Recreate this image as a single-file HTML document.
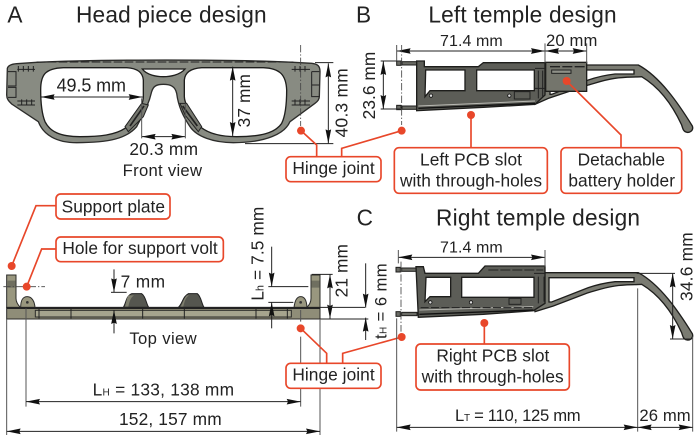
<!DOCTYPE html>
<html><head><meta charset="utf-8"><style>
html,body{margin:0;padding:0;background:#fff;width:700px;height:441px;overflow:hidden}
svg{display:block}
text{font-family:"Liberation Sans",sans-serif;fill:#222}
.t{font-size:68px}
.l{stroke:#222;stroke-width:3;fill:none}
.g{stroke:#555;stroke-width:3;fill:none}
.a{stroke:#222;stroke-width:3;fill:none;marker-end:url(#a)}
.aa{stroke:#222;stroke-width:3;fill:none;marker-end:url(#a);marker-start:url(#a)}
.dd{stroke:#444;stroke-width:2.5;stroke-dasharray:22 6 4 6;fill:none}
.o{stroke:#e8472a;stroke-width:5;fill:none}
.dot{fill:#e8472a}
.b{fill:#fff;stroke:#e8472a;stroke-width:5}
.f{fill:#888b82;stroke:#2c2c2a;stroke-width:4}
.k{fill:#5c5d57;stroke:#1e1e1c;stroke-width:4}
.w{fill:#fff;stroke:#1e1e1c;stroke-width:4}
.e{stroke:#222;stroke-width:3;fill:none}
.p{fill:#6a6b65;stroke:#1e1e1c;stroke-width:3}
.ar{fill:#7a7b72;stroke:#1e1e1c;stroke-width:4}
</style></head><body>
<svg xmlns="http://www.w3.org/2000/svg" width="700" height="441" viewBox="0 0 2100 1323">
<defs>
<marker id="a" viewBox="-42 -9 42 18" refX="0" refY="0" markerWidth="42" markerHeight="18" markerUnits="userSpaceOnUse" orient="auto-start-reverse"><path d="M0,0L-42,-8.5L-38,0L-42,8.5z" fill="#111"/></marker>
</defs>

<!-- Panel A -->
<text class="t" x="22" y="67" textLength="46">A</text>
<text class="t" x="228" y="67" textLength="572">Head piece design</text>
<path class="f" d="M22,205C25,195 35,192 50,191L110,187C300,178 700,178 880,187L935,190C955,192 960,200 960,215L958,290C958,297 952,305 945,310L870,365C855,400 800,428 700,428C640,428 590,410 570,380C550,350 535,320 530,280C525,258 510,253 490,253C470,253 460,258 455,275C445,320 425,350 410,380C380,415 330,428 230,428C170,428 130,405 115,365L35,312C28,305 20,298 20,285Z"/>
<path class="w" d="M122,270C122,225 135,205 190,203L380,203C410,205 428,215 430,240L430,290C430,320 395,370 375,385C345,405 300,410 240,410C180,410 150,395 135,365C125,340 122,300 122,270Z"/>
<path class="w" d="M553,240C555,215 575,205 605,203L790,203C840,205 858,225 860,270C860,320 855,350 845,370C825,400 780,410 710,410C650,410 615,395 595,375C575,350 553,310 553,290Z"/>
<path class="w" d="M427,207L555,207C540,225 510,230 490,230C470,230 440,225 427,207Z"/>
<path fill="#777970" stroke="#222" stroke-width="3" d="M375,380L425,310L445,315L430,350L385,395Z"/>
<path fill="#777970" stroke="#222" stroke-width="3" d="M540,310L560,310L605,380L595,395L555,345Z"/>
<path d="M390,378L432,318M548,318L592,378" stroke="#222" stroke-width="5" fill="none"/>
<path d="M110,186H880" stroke="#222" stroke-width="3" stroke-dasharray="26 7" fill="none"/>
<path class="e" d="M52,208H105M55,198V215M70,198V215M85,198V215M100,198V215M52,303H105M52,315H105M65,298V315M80,298V315M95,298V315"/>
<path class="e" d="M875,208H930M885,198V215M900,198V215M915,198V215M875,303H930M875,315H930M885,298V315M900,298V315M915,298V315"/>
<path class="e" d="M24,215H48V258H24M24,262H48V292H24M935,215H958M935,215V290H958M935,255H958"/>
<path class="aa" d="M122,291H428"/>
<path class="aa" d="M698,200V408"/>
<path class="aa" d="M985,190V430"/>
<path class="aa" d="M425,410H556"/>
<path class="l" d="M945,188H1000M735,431H1000"/>
<path class="g" d="M425,295V415M556,310V415"/>
<path class="dd" d="M902,135V378"/>
<text font-size="54" x="170" y="274" textLength="208">49.5 mm</text>
<text font-size="52" x="388" y="465" textLength="206">20.3 mm</text>
<text font-size="50" x="368" y="528" textLength="238">Front view</text>
<text font-size="52" transform="translate(750,382) rotate(-90)" textLength="160">37 mm</text>
<text font-size="52" transform="translate(1043,412) rotate(-90)" textLength="207">40.3 mm</text>

<!-- Hinge callouts -->
<circle class="dot" cx="903" cy="392" r="12"/>
<path class="o" d="M903,392L950,435V470"/>
<path class="o" d="M1025,470V445L1205,392"/>
<circle class="dot" cx="1205" cy="392" r="12"/>
<rect class="b" x="858" y="470" width="285" height="75" rx="14"/>
<text font-size="52" x="877" y="522" textLength="247">Hinge joint</text>

<!-- Panel B -->
<g transform="translate(1050,0)">
<text class="t" x="18" y="67" textLength="44">B</text>
<text class="t" x="235" y="67" textLength="565">Left temple design</text>
<rect class="p" x="140" y="183" width="13" height="13"/><rect class="p" x="156" y="185" width="46" height="10"/>
<rect class="p" x="140" y="316" width="13" height="13"/><rect class="p" x="156" y="318" width="46" height="10"/>
<path class="ar" d="M580,195H865C930,230 985,310 1027,378C1032,392 1018,400 1008,396C1000,394 998,385 995,375C965,310 925,260 875,230C850,232 825,230 795,235C760,240 735,250 715,255L595,295L555,313L540,250Z"/>
<path class="w" d="M600,210H852V222H795C760,226 735,233 715,240L605,283H600Z"/>
<path class="k" d="M200,183H223V200H385L400,188H585V285L555,313L400,322L200,332Z"/>
<path class="w" d="M227,210H345V272H240L225,290Z"/>
<path class="w" d="M380,210H553V272H380Z"/>
<path d="M205,318L555,303" stroke="#b9b9b3" stroke-width="3" fill="none"/>
<path d="M205,325L555,310" stroke="#111" stroke-width="4" fill="none"/>
<rect x="587" y="187" width="123" height="87" fill="#74756c" stroke="#1e1e1c" stroke-width="4"/>
<path d="M600,200H708" stroke="#222" stroke-width="4" stroke-dasharray="30 7" fill="none"/>
<rect x="605" y="210" width="58" height="10" fill="#8f9088" stroke="#222" stroke-width="3"/>
<path class="e" d="M555,205H585M565,212V295M578,212V290M555,265H585"/>
<rect x="493" y="275" width="47" height="22" fill="#5c5d57" stroke="#222" stroke-width="3"/>
<circle cx="243" cy="287" r="5" fill="#ddd" stroke="#111" stroke-width="2.5"/>
<circle cx="478" cy="287" r="5" fill="#ddd" stroke="#111" stroke-width="2.5"/>
<path class="aa" d="M140,153H585"/>
<path class="aa" d="M585,153H710"/>
<path class="aa" d="M100,183V327"/>
<path class="l" d="M92,183H150M92,327H150"/>
<path class="g" d="M140,135V182M585,130V187M710,130V190"/>
<path class="dd" d="M155,135V375"/>
<text font-size="48" x="270" y="138" textLength="188">71.4 mm</text>
<text font-size="50" x="588" y="138" textLength="154">20 mm</text>
<text font-size="52" transform="translate(75,358) rotate(-90)" textLength="203">23.6 mm</text>
<circle class="dot" cx="363" cy="345" r="12"/>
<path class="o" d="M363,345V443"/>
<rect class="b" x="133" y="443" width="459" height="137" rx="14"/>
<text font-size="52" x="210" y="497" textLength="306">Left PCB slot</text>
<text font-size="52" x="150" y="560" textLength="426">with through-holes</text>
<circle class="dot" cx="650" cy="243" r="12"/>
<path class="o" d="M650,243L813,405V443"/>
<rect class="b" x="633" y="443" width="362" height="137" rx="14"/>
<text font-size="52" x="683" y="497" textLength="262">Detachable</text>
<text font-size="52" x="655" y="560" textLength="320">battery holder</text>
</g>

<!-- Top view -->
<g transform="translate(0,570)">
<path fill="#99977f" stroke="#2c2c2a" stroke-width="3" d="M20,255H48V325C48,335 54,345 62,353H20Z"/>
<path fill="#99977f" stroke="#2c2c2a" stroke-width="3" d="M960,255H933V325C933,335 928,345 920,353H960Z"/>
<path fill="#6f6f60" d="M22,272H46V293H22ZM935,272H958V293H935Z"/>
<path fill="#99977f" stroke="#2c2c2a" stroke-width="3" d="M62,353C62,330 68,320 82,320C96,320 104,335 105,353Z"/>
<path fill="#99977f" stroke="#2c2c2a" stroke-width="3" d="M882,353C884,335 890,320 902,320C914,320 920,330 921,353Z"/>
<circle cx="82" cy="337" r="4" fill="#333"/><circle cx="902" cy="337" r="4" fill="#333"/>
<path fill="#55564f" stroke="#222" stroke-width="3" d="M370,352C378,340 378,318 395,311H425C438,320 438,340 446,352Z"/>
<path fill="#7f7f6e" d="M385,350C388,335 392,322 402,316H385C380,325 378,340 375,350Z"/>
<path fill="#55564f" stroke="#222" stroke-width="3" d="M535,352C548,340 548,320 565,311H592C604,320 604,340 612,352Z"/>
<path fill="#7f7f6e" d="M550,350C553,335 557,322 567,316H560C552,325 548,340 542,350Z"/>
<rect x="20" y="352" width="940" height="35" fill="#8f8d78" stroke="#2c2c2a" stroke-width="3"/>
<rect x="106" y="361" width="768" height="20" fill="#a6a48e" stroke="#2c2c2a" stroke-width="3"/>
<path d="M20,354H960" stroke="#222" stroke-width="6" fill="none"/>
<path d="M117,357V385M213,357V385M428,357V385M553,357V385M768,357V385M862,357V385" stroke="#222" stroke-width="3" fill="none"/>
<path class="dd" d="M10,290H135"/>
<path class="a" d="M342,238V307"/>
<path class="l" d="M333,307H380"/>
<path class="a" d="M342,430V360"/>
<text font-size="52" x="362" y="292" textLength="133">7 mm</text>
<text font-size="50" x="388" y="462" textLength="202">Top view</text>
<path class="a" d="M815,170V290"/>
<path class="l" d="M805,290H925M805,337H880"/>
<path class="a" d="M815,415V337"/>
<text font-size="52" transform="translate(790,332) rotate(-90)" textLength="282">L<tspan font-size="32">h</tspan> = 7.5 mm</text>
<path class="aa" d="M990,253V386"/>
<path class="l" d="M935,253H998M960,352H1095M960,387H1105"/>
<text font-size="52" transform="translate(1042,322) rotate(-90)" textLength="160">21 mm</text>
<path class="g" d="M78,355V650M902,360V395M902,440V520M902,595V650M20,387V735M960,387V735"/>
<path class="aa" d="M78,635H902"/>
<path class="aa" d="M20,724H960"/>
<text font-size="52" x="278" y="617" textLength="424">L<tspan font-size="30">H</tspan> = 133, 138 mm</text>
<text font-size="52" x="357" y="705" textLength="308">152, 157 mm</text>
<circle class="dot" cx="35" cy="228" r="12"/>
<path class="o" d="M168,47H108L35,228"/>
<rect class="b" x="168" y="12" width="342" height="75" rx="14"/>
<text font-size="52" x="185" y="67" textLength="310">Support plate</text>
<circle class="dot" cx="80" cy="290" r="12"/>
<path class="o" d="M168,177H125L80,290"/>
<rect class="b" x="168" y="141" width="502" height="74" rx="14"/>
<text font-size="52" x="187" y="192" textLength="466">Hole for support volt</text>
<circle class="dot" cx="902" cy="415" r="12"/>
<path class="o" d="M902,415L980,490V520"/>
<path class="o" d="M1028,520V490L1205,441"/>
<rect class="b" x="858" y="520" width="285" height="75" rx="14"/>
<text font-size="52" x="877" y="572" textLength="247">Hinge joint</text>
</g>

<!-- Panel C -->
<g transform="translate(1050,585)">
<text class="t" x="20" y="92" textLength="46">C</text>
<text class="t" x="258" y="92" textLength="612">Right temple design</text>
<rect class="p" x="138" y="217" width="13" height="14"/><rect class="p" x="155" y="219" width="46" height="10"/>
<rect class="p" x="138" y="350" width="13" height="14"/><rect class="p" x="155" y="352" width="46" height="10"/>
<path class="ar" d="M580,233H865C930,268 985,348 1027,416C1032,430 1018,438 1008,434C1000,432 998,423 995,413C965,348 925,298 875,268C850,270 825,268 795,273C760,278 735,288 715,293L610,333L555,350L540,288Z"/>
<path class="w" d="M597,248H852V260H795C760,264 735,271 715,278L605,321H597Z"/>
<path class="k" d="M198,215H220L225,235H385L405,213H585V325L550,347L400,358L205,367Z"/>
<path class="w" d="M228,247H302V305H240L225,320Z"/>
<path class="w" d="M335,247H552V307H335Z"/>
<path d="M208,345L550,335" stroke="#b9b9b3" stroke-width="3" fill="none"/>
<path d="M208,358L550,345" stroke="#111" stroke-width="4" fill="none"/>
<path d="M212,338H550" stroke="#222" stroke-width="3" stroke-dasharray="24 7" fill="none"/>
<path d="M415,225H580" stroke="#222" stroke-width="3" stroke-dasharray="30 6" fill="none"/>
<path class="e" d="M552,235H585M565,245V325M582,245V320"/>
<rect x="477" y="310" width="36" height="18" fill="#5c5d57" stroke="#222" stroke-width="3"/>
<circle cx="241" cy="322" r="5" fill="#ddd" stroke="#111" stroke-width="2.5"/>
<circle cx="363" cy="322" r="5" fill="#ddd" stroke="#111" stroke-width="2.5"/>
<path class="aa" d="M145,187H585"/>
<path class="g" d="M145,165V205M585,165V215"/>
<path class="dd" d="M153,200V410"/>
<path class="a" d="M47,205V338"/>
<path class="a" d="M47,435V368"/>
<text font-size="48" x="270" y="172" textLength="188">71.4 mm</text>
<text font-size="50" transform="translate(110,432) rotate(-90)" textLength="227">t<tspan font-size="30">H</tspan> = 6 mm</text>
<path class="aa" d="M968,235V432"/>
<path class="l" d="M860,235H975M960,432H1025"/>
<text font-size="52" transform="translate(1028,318) rotate(-90)" textLength="206">34.6 mm</text>
<path class="g" d="M140,370V710M863,280V710M1028,425V710"/>
<path class="aa" d="M140,697H863"/>
<path class="aa" d="M863,697H1028"/>
<text font-size="50" x="315" y="678" textLength="377">L<tspan font-size="30">T</tspan> = 110, 125 mm</text>
<text font-size="50" x="868" y="678" textLength="154">26 mm</text>
<circle class="dot" cx="155" cy="426" r="12"/>
<circle class="dot" cx="403" cy="384" r="12"/>
<path class="o" d="M403,384V447"/>
<rect class="b" x="198" y="447" width="460" height="138" rx="14"/>
<text font-size="52" x="259" y="500" textLength="339">Right PCB slot</text>
<text font-size="52" x="215" y="562" textLength="426">with through-holes</text>
</g>
</svg>
</body></html>
